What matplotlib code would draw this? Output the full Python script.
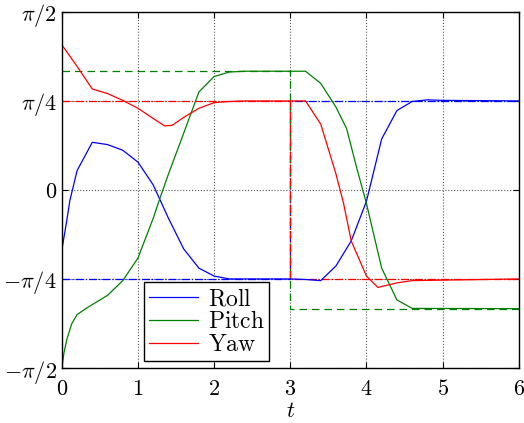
import numpy as np
import matplotlib
matplotlib.use("Agg")
import matplotlib.pyplot as plt

plt.rcParams['mathtext.fontset'] = 'cm'
plt.rcParams['font.family'] = 'serif'

# valores (rad)
t_roll = [0, 0.065, 0.105, 0.2, 0.4, 0.6, 0.8, 1.0, 1.2, 1.4, 1.6, 1.8, 2.0, 2.2, 2.4,
          3.0, 3.2, 3.4, 3.6, 3.8, 4.0, 4.2, 4.4, 4.6, 4.8, 5.0, 6.0]
roll = [-0.53, -0.27, -0.095, 0.17, 0.42, 0.40, 0.35, 0.245, 0.044, -0.25, -0.52, -0.69,
        -0.76, -0.785, -0.785, -0.785, -0.79, -0.80, -0.67, -0.45, -0.10, 0.45, 0.70,
        0.78, 0.795, 0.79, 0.785]

t_pitch = [0, 0.03, 0.065, 0.13, 0.2, 0.33, 0.6, 0.8, 1.0, 1.2, 1.29, 1.4, 1.6, 1.8, 2.0, 2.2,
           2.4, 3.0, 3.2, 3.4, 3.6, 3.74, 3.87, 4.0, 4.2, 4.4, 4.6, 6.0]
pitch = [-1.571, -1.43, -1.32, -1.18, -1.10, -1.04, -0.93, -0.80, -0.60, -0.25, -0.07, 0.14,
         0.50, 0.864, 1.0, 1.04, 1.047, 1.047, 1.047, 0.94, 0.73, 0.54, 0.2, -0.12,
         -0.69, -0.97, -1.045, -1.047]

t_yaw = [0, 0.2, 0.4, 0.6, 0.8, 1.0, 1.2, 1.35, 1.45, 1.6, 1.8, 2.0, 2.2, 2.4, 3.0,
         3.2, 3.4, 3.6, 3.7, 3.8, 4.0, 4.15, 4.4, 4.6, 6.0]
yaw = [1.28, 1.09, 0.89, 0.85, 0.79, 0.72, 0.63, 0.565, 0.57, 0.64, 0.72, 0.77, 0.78,
       0.785, 0.785, 0.785, 0.58, 0.14, -0.12, -0.45, -0.76, -0.86, -0.82, -0.80, -0.785]

# referencias (degraus em t = 3)
t_ref = [0, 3, 3, 6]
roll_ref = [-np.pi/4, -np.pi/4, np.pi/4, np.pi/4]
pitch_ref = [np.pi/3, np.pi/3, -np.pi/3, -np.pi/3]
yaw_ref = [np.pi/4, np.pi/4, -np.pi/4, -np.pi/4]

yticks = [-np.pi/2, -np.pi/4, 0, np.pi/4, np.pi/2]
ylabels = [r'$-\pi/2$', r'$-\pi/4$', r'$0$', r'$\pi/4$', r'$\pi/2$']

azul = '#0000ff'
verde = '#008000'
vermelho = '#ff0000'

fig = plt.figure(figsize=(5.24, 4.23), dpi=100)
ax = fig.add_axes([0.118, 0.130, 0.872, 0.842])

ax.plot(t_ref, roll_ref, color=azul, ls='-.', lw=0.9)
ax.plot(t_ref, pitch_ref, color=verde, ls=(0, (6, 4)), lw=0.9)
ax.plot(t_ref, yaw_ref, color=vermelho, ls='-.', lw=0.9)

ax.plot(t_roll, roll, color=azul, lw=0.9, label=r'$\mathrm{Roll}$')
ax.plot(t_pitch, pitch, color=verde, lw=0.9, label=r'$\mathrm{Pitch}$')
ax.plot(t_yaw, yaw, color=vermelho, lw=0.9, label=r'$\mathrm{Yaw}$')

ax.set_xlim(0, 6)
ax.set_ylim(-np.pi/2, np.pi/2)
ax.set_xticks(range(7))
ax.set_xticklabels([r'$%d$' % i for i in range(7)])
ax.set_yticks(yticks)
ax.set_yticklabels(ylabels)
ax.tick_params(direction='in', top=True, right=True, labelsize=16, length=4)
ax.tick_params(axis='x', pad=7)
ax.grid(True, ls=':', color='0.35', lw=0.8)
ax.set_xlabel(r'$t$', fontsize=16, labelpad=0)
for s in ax.spines.values():
    s.set_linewidth(1.0)

leg = ax.legend(loc='lower left', bbox_to_anchor=(0.180, 0.02), fontsize=17,
                frameon=True, fancybox=False, edgecolor='black', framealpha=1,
                handlelength=2.1, borderpad=0.2, labelspacing=0.0,
                handletextpad=0.4, borderaxespad=0)
leg.get_frame().set_linewidth(1.0)

fig.savefig('out.png', dpi=100)
